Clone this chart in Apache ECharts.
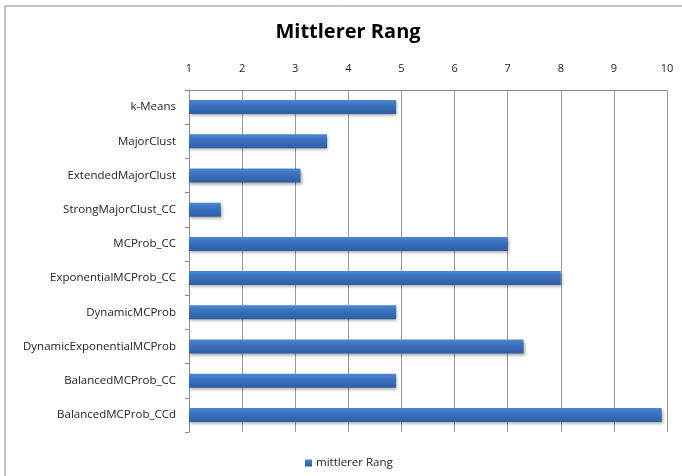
<!DOCTYPE html>
<html>
<head>
<meta charset="utf-8">
<script src="https://cdn.jsdelivr.net/npm/echarts@6/dist/echarts.min.js"></script>
<style>
  html, body { margin: 0; padding: 0; background: #fff; }
  #chart { width: 682px; height: 476px; }
</style>
</head>
<body>
<div id="chart"></div>
<script>
// Methods, top to bottom
const categories = [
  'k-Means',
  'MajorClust',
  'ExtendedMajorClust',
  'StrongMajorClust_CC',
  'MCProb_CC',
  'ExponentialMCProb_CC',
  'DynamicMCProb',
  'DynamicExponentialMCProb',
  'BalancedMCProb_CC',
  'BalancedMCProb_CCd'
];
// Mean rank per method
const mittlererRang = [4.9, 3.6, 3.1, 1.6, 7.0, 8.0, 4.9, 7.3, 4.9, 9.9];
const seriesName = 'mittlerer Rang';
const chartTitle = 'Mittlerer Rang';

const FONT = '"Open Sans", "Noto Sans", sans-serif';
const chart = echarts.init(document.getElementById('chart'), null, { renderer: 'canvas' });

chart.setOption({
  backgroundColor: '#ffffff',
  animation: false,
  title: {
    text: chartTitle,
    left: 343,
    textAlign: 'center',
    top: 17,
    textStyle: { fontFamily: FONT, fontSize: 20, fontWeight: 'bold', color: '#000' }
  },
  legend: {
    top: 452,
    left: 300,
    itemWidth: 7,
    itemHeight: 7,
    icon: 'rect',
    itemGap: 4,
    textStyle: { fontFamily: FONT, fontSize: 11.5, color: '#222', padding: [0, 0, 0, -1] },
    data: [seriesName]
  },
  grid: { left: 189, right: 15, top: 90, bottom: 44 },
  xAxis: {
    type: 'value',
    position: 'top',
    min: 1,
    max: 10,
    interval: 1,
    axisLine: { show: true, lineStyle: { color: '#8c8c8c' } },
    axisTick: { show: false },
    splitLine: { show: true, lineStyle: { color: '#9a9a9a', width: 1 } },
    axisLabel: { fontFamily: FONT, fontSize: 11, color: '#222', margin: 16 }
  },
  yAxis: {
    type: 'category',
    data: categories,
    inverse: true,
    axisLine: { show: true, lineStyle: { color: '#8c8c8c' } },
    axisTick: { show: true, length: 4, lineStyle: { color: '#8c8c8c' } },
    axisLabel: { fontFamily: FONT, fontSize: 11.5, color: '#222', margin: 13 }
  },
  series: [{
    name: seriesName,
    type: 'bar',
    data: mittlererRang,
    barWidth: 14,
    itemStyle: {
      color: new echarts.graphic.LinearGradient(0, 0, 0, 1, [
        { offset: 0, color: '#4d86d0' },
        { offset: 0.35, color: '#3c73c2' },
        { offset: 1, color: '#2d5ea2' }
      ]),
      shadowColor: 'rgba(0,0,0,0.35)',
      shadowBlur: 3,
      shadowOffsetX: 1,
      shadowOffsetY: 2
    }
  }],
  graphic: [
    { type: 'line', shape: { x1: 5, y1: 6, x2: 682, y2: 6 }, style: { stroke: '#8a8a8a', lineWidth: 1 } },
    { type: 'line', shape: { x1: 5, y1: 6, x2: 5, y2: 476 }, style: { stroke: '#8a8a8a', lineWidth: 1 } }
  ]
});
</script>
</body>
</html>
